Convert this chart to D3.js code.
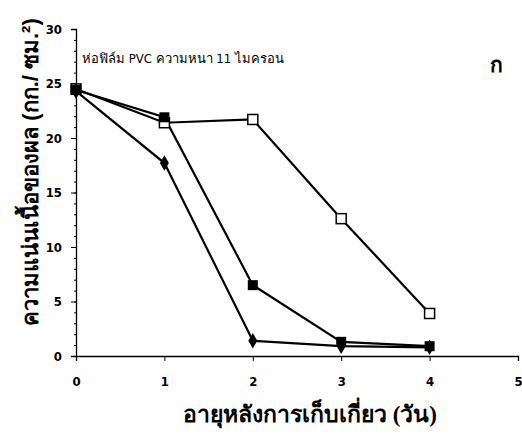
<!DOCTYPE html>
<html><head><meta charset="utf-8">
<script src="https://cdn.jsdelivr.net/npm/d3@7"></script>
<style>body{margin:0;background:#fff}</style>
</head><body>
<svg id="c" width="522" height="448"></svg>
<script>
const days = [0, 1, 2, 3, 4];
const openSquare = [24.5, 21.4, 21.7, 12.6, 3.9];
const filledSquare = [24.4, 21.9, 6.5, 1.3, 0.9];
const diamond = [24.3, 17.7, 1.4, 0.9, 0.8];
const xTicks = [0, 1, 2, 3, 4, 5];
const yTicks = [0, 5, 10, 15, 20, 25, 30];
const noteText = "ห่อฟิล์ม PVC ความหนา 11 ไมครอน";
const panelLabel = "ก";
const xTitle = "อายุหลังการเก็บเกี่ยว (วัน)";
const yTitle = "ความแน่นเนื้อของผล (กก./ ซม.²)";

const svg = d3.select("#c");
const x = d3.scaleLinear().domain([0, 5]).range([76, 518]);
const y = d3.scaleLinear().domain([0, 30]).range([356, 29]);
const tickFont = "'DejaVu Sans Condensed','Liberation Sans Narrow',sans-serif";

const xa = svg.append("g").attr("transform", `translate(0,${y(0)})`)
  .call(d3.axisBottom(x).tickValues(xTicks).tickSize(5).tickPadding(16).tickFormat(d3.format("d")));
const ya = svg.append("g").attr("transform", `translate(${x(0)},0)`)
  .call(d3.axisLeft(y).tickValues(yTicks).tickSize(5).tickPadding(9).tickFormat(d3.format("d")));
svg.append("g").attr("transform", `translate(${x(0)},0)`)
  .call(d3.axisLeft(y).tickValues(d3.range(0, 31, 1)).tickSize(2).tickFormat(""))
  .call(g => g.select(".domain").remove());
[xa, ya].forEach(a => {
  a.select(".domain").attr("stroke", "#000").attr("stroke-width", 1.3);
  a.selectAll(".tick line").attr("stroke", "#000");
  a.selectAll("text").attr("font-family", tickFont).attr("font-stretch", "condensed")
    .attr("font-size", 13).attr("font-weight", "bold").attr("fill", "#000");
});

const line = d3.line().x((d, i) => x(days[i])).y(d => y(d));
[openSquare, filledSquare, diamond].forEach(s => {
  svg.append("path").datum(s).attr("d", line).attr("fill", "none").attr("stroke", "#000").attr("stroke-width", 2.2);
});
const ms = 10;
svg.append("g").selectAll("rect").data(openSquare).join("rect")
  .attr("x", (d, i) => x(days[i]) - ms / 2).attr("y", d => y(d) - ms / 2)
  .attr("width", ms).attr("height", ms).attr("fill", "#fff").attr("stroke", "#000").attr("stroke-width", 1.5);
svg.append("g").selectAll("rect").data(filledSquare).join("rect")
  .attr("x", (d, i) => x(days[i]) - ms / 2).attr("y", d => y(d) - ms / 2)
  .attr("width", ms).attr("height", ms).attr("fill", "#000");
svg.append("g").selectAll("path").data(diamond).join("path")
  .attr("d", d3.symbol(d3.symbolDiamond, 70))
  .attr("transform", (d, i) => `translate(${x(days[i])},${y(d)})`).attr("fill", "#000");

svg.append("text").attr("x", 82).attr("y", 63).attr("font-family", tickFont).attr("font-stretch", "condensed")
  .attr("font-size", 13).attr("fill", "#000").text(noteText);
svg.append("text").attr("x", 490).attr("y", 72).attr("font-size", 21).attr("font-weight", "bold")
  .attr("font-family", "sans-serif").attr("fill", "#000").text(panelLabel);
svg.append("text").attr("x", 310).attr("y", 422).attr("text-anchor", "middle")
  .attr("font-size", 23).attr("font-weight", "bold").attr("font-family", "serif").attr("fill", "#000").text(xTitle);
svg.append("text").attr("transform", "translate(38,172) rotate(-90)").attr("text-anchor", "middle")
  .attr("font-size", 22).attr("font-weight", "bold").attr("font-family", "sans-serif").attr("fill", "#000").text(yTitle);
</script>
</body></html>
